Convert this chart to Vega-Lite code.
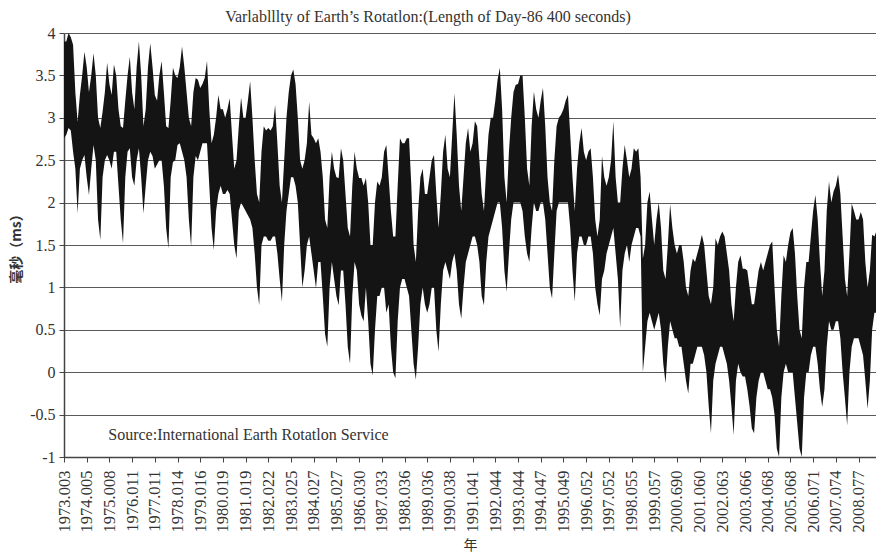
{
  "$schema": "https://vega.github.io/schema/vega-lite/v6.json",
  "autosize": {"type": "none"},
  "padding": {"left": 64, "top": 33, "right": 0, "bottom": 98},
  "width": 812,
  "height": 424,
  "background": "white",
  "config": {"view": {"stroke": null}},
  "title": {"text": "Varlablllty of Earth’s Rotatlon:(Length of Day-86 400 seconds)", "font": "Liberation Serif", "fontSize": 16, "fontWeight": "normal", "color": "#333", "anchor": "middle", "dx": -42, "offset": 0},
  "layer": [
    {
      "data": {"values": [
{"t":1973.0,"lo":2.76,"hi":3.9},{"t":1973.1,"lo":2.8,"hi":3.9},{"t":1973.2,"lo":2.88,"hi":4.0},{"t":1973.3,"lo":2.85,"hi":3.95},{"t":1973.4,"lo":2.6,"hi":3.86},{"t":1973.5,"lo":2.4,"hi":3.3},{"t":1973.6,"lo":1.87,"hi":2.95},{"t":1973.7,"lo":2.4,"hi":3.27},{"t":1973.8,"lo":2.5,"hi":3.5},{"t":1973.9,"lo":2.56,"hi":3.78},
{"t":1974.0,"lo":2.3,"hi":3.6},{"t":1974.1,"lo":2.09,"hi":3.3},{"t":1974.2,"lo":2.4,"hi":3.5},{"t":1974.3,"lo":2.68,"hi":3.76},{"t":1974.4,"lo":2.5,"hi":3.5},{"t":1974.5,"lo":1.8,"hi":3.0},{"t":1974.6,"lo":1.56,"hi":2.88},{"t":1974.7,"lo":2.3,"hi":3.07},{"t":1974.8,"lo":2.5,"hi":3.3},{"t":1974.9,"lo":2.56,"hi":3.65},
{"t":1975.0,"lo":2.5,"hi":3.4},{"t":1975.1,"lo":2.4,"hi":3.27},{"t":1975.2,"lo":2.6,"hi":3.63},{"t":1975.3,"lo":2.6,"hi":3.5},{"t":1975.4,"lo":2.2,"hi":3.1},{"t":1975.5,"lo":1.8,"hi":2.9},{"t":1975.6,"lo":1.52,"hi":2.88},{"t":1975.7,"lo":2.3,"hi":3.2},{"t":1975.8,"lo":2.6,"hi":3.5},{"t":1975.9,"lo":2.64,"hi":3.72},
{"t":1976.0,"lo":2.3,"hi":3.3},{"t":1976.1,"lo":2.2,"hi":3.1},{"t":1976.2,"lo":2.5,"hi":3.6},{"t":1976.3,"lo":2.64,"hi":3.9},{"t":1976.4,"lo":2.3,"hi":3.5},{"t":1976.5,"lo":1.87,"hi":2.9},{"t":1976.6,"lo":2.2,"hi":3.1},{"t":1976.7,"lo":2.5,"hi":3.6},{"t":1976.8,"lo":2.6,"hi":3.88},{"t":1976.9,"lo":2.55,"hi":3.6},
{"t":1977.0,"lo":2.4,"hi":3.27},{"t":1977.1,"lo":2.45,"hi":3.2},{"t":1977.2,"lo":2.5,"hi":3.5},{"t":1977.3,"lo":2.5,"hi":3.67},{"t":1977.4,"lo":2.2,"hi":3.3},{"t":1977.5,"lo":1.7,"hi":2.9},{"t":1977.6,"lo":1.46,"hi":2.88},{"t":1977.7,"lo":2.3,"hi":3.2},{"t":1977.8,"lo":2.48,"hi":3.59},{"t":1977.9,"lo":2.5,"hi":3.5},
{"t":1978.0,"lo":2.68,"hi":3.47},{"t":1978.1,"lo":2.7,"hi":3.6},{"t":1978.2,"lo":2.6,"hi":3.84},{"t":1978.3,"lo":2.5,"hi":3.6},{"t":1978.4,"lo":2.3,"hi":3.3},{"t":1978.5,"lo":1.8,"hi":3.0},{"t":1978.6,"lo":1.48,"hi":2.9},{"t":1978.7,"lo":2.3,"hi":3.3},{"t":1978.8,"lo":2.55,"hi":3.47},{"t":1978.9,"lo":2.5,"hi":3.45},
{"t":1979.0,"lo":2.6,"hi":3.35},{"t":1979.1,"lo":2.7,"hi":3.4},{"t":1979.2,"lo":2.7,"hi":3.47},{"t":1979.3,"lo":2.7,"hi":3.67},{"t":1979.4,"lo":2.2,"hi":3.1},{"t":1979.5,"lo":1.7,"hi":2.7},{"t":1979.6,"lo":1.44,"hi":2.8},{"t":1979.7,"lo":1.9,"hi":3.0},{"t":1979.8,"lo":2.1,"hi":3.27},{"t":1979.9,"lo":2.2,"hi":3.1},
{"t":1980.0,"lo":2.1,"hi":3.1},{"t":1980.1,"lo":2.1,"hi":3.0},{"t":1980.2,"lo":2.15,"hi":3.1},{"t":1980.3,"lo":2.1,"hi":3.23},{"t":1980.4,"lo":1.8,"hi":2.8},{"t":1980.5,"lo":1.5,"hi":2.4},{"t":1980.6,"lo":1.34,"hi":2.5},{"t":1980.7,"lo":1.9,"hi":2.9},{"t":1980.8,"lo":2.0,"hi":3.24},{"t":1980.9,"lo":1.95,"hi":3.0},
{"t":1981.0,"lo":1.9,"hi":3.0},{"t":1981.1,"lo":1.85,"hi":3.2},{"t":1981.2,"lo":1.8,"hi":3.43},{"t":1981.3,"lo":1.7,"hi":3.0},{"t":1981.4,"lo":1.4,"hi":2.5},{"t":1981.5,"lo":1.0,"hi":2.1},{"t":1981.6,"lo":0.79,"hi":2.0},{"t":1981.7,"lo":1.5,"hi":2.6},{"t":1981.8,"lo":1.6,"hi":2.9},{"t":1981.9,"lo":1.6,"hi":2.85},
{"t":1982.0,"lo":1.55,"hi":2.88},{"t":1982.1,"lo":1.55,"hi":2.85},{"t":1982.2,"lo":1.6,"hi":2.9},{"t":1982.3,"lo":1.6,"hi":3.15},{"t":1982.4,"lo":1.4,"hi":2.7},{"t":1982.5,"lo":1.1,"hi":2.2},{"t":1982.6,"lo":0.83,"hi":2.0},{"t":1982.7,"lo":1.5,"hi":2.5},{"t":1982.8,"lo":1.9,"hi":3.0},{"t":1982.9,"lo":2.1,"hi":3.3},
{"t":1983.0,"lo":2.3,"hi":3.5},{"t":1983.1,"lo":2.3,"hi":3.57},{"t":1983.2,"lo":2.2,"hi":3.4},{"t":1983.3,"lo":2.0,"hi":3.0},{"t":1983.4,"lo":1.5,"hi":2.5},{"t":1983.5,"lo":1.0,"hi":2.4},{"t":1983.6,"lo":1.2,"hi":2.5},{"t":1983.7,"lo":1.5,"hi":2.7},{"t":1983.8,"lo":1.6,"hi":3.19},{"t":1983.9,"lo":1.4,"hi":2.8},
{"t":1984.0,"lo":1.2,"hi":2.76},{"t":1984.1,"lo":0.99,"hi":2.7},{"t":1984.2,"lo":1.3,"hi":2.76},{"t":1984.3,"lo":1.3,"hi":2.6},{"t":1984.4,"lo":0.9,"hi":2.3},{"t":1984.5,"lo":0.45,"hi":1.8},{"t":1984.6,"lo":0.3,"hi":1.7},{"t":1984.7,"lo":1.0,"hi":2.3},{"t":1984.8,"lo":1.3,"hi":2.6},{"t":1984.9,"lo":1.1,"hi":2.4},
{"t":1985.0,"lo":0.9,"hi":2.3},{"t":1985.1,"lo":0.79,"hi":2.29},{"t":1985.2,"lo":1.2,"hi":2.64},{"t":1985.3,"lo":1.2,"hi":2.5},{"t":1985.4,"lo":0.8,"hi":2.1},{"t":1985.5,"lo":0.3,"hi":1.7},{"t":1985.6,"lo":0.1,"hi":1.6},{"t":1985.7,"lo":0.9,"hi":2.2},{"t":1985.8,"lo":1.3,"hi":2.6},{"t":1985.9,"lo":1.2,"hi":2.4},
{"t":1986.0,"lo":0.8,"hi":2.29},{"t":1986.1,"lo":0.67,"hi":2.29},{"t":1986.2,"lo":0.6,"hi":2.2},{"t":1986.3,"lo":1.0,"hi":2.29},{"t":1986.4,"lo":0.6,"hi":2.0},{"t":1986.5,"lo":0.1,"hi":1.5},{"t":1986.6,"lo":-0.04,"hi":1.5},{"t":1986.7,"lo":0.5,"hi":2.0},{"t":1986.8,"lo":0.9,"hi":2.25},{"t":1986.9,"lo":0.9,"hi":2.2},
{"t":1987.0,"lo":1.0,"hi":2.3},{"t":1987.1,"lo":1.0,"hi":2.6},{"t":1987.2,"lo":0.7,"hi":2.68},{"t":1987.3,"lo":0.8,"hi":2.3},{"t":1987.4,"lo":0.3,"hi":1.9},{"t":1987.5,"lo":0.0,"hi":1.6},{"t":1987.6,"lo":-0.07,"hi":1.6},{"t":1987.7,"lo":0.6,"hi":2.2},{"t":1987.8,"lo":1.0,"hi":2.76},{"t":1987.9,"lo":1.1,"hi":2.7},
{"t":1988.0,"lo":1.1,"hi":2.7},{"t":1988.1,"lo":1.0,"hi":2.76},{"t":1988.2,"lo":0.9,"hi":2.76},{"t":1988.3,"lo":0.5,"hi":2.2},{"t":1988.4,"lo":0.1,"hi":1.5},{"t":1988.5,"lo":-0.09,"hi":1.3},{"t":1988.6,"lo":0.3,"hi":1.9},{"t":1988.7,"lo":0.8,"hi":2.3},{"t":1988.8,"lo":1.0,"hi":2.4},{"t":1988.9,"lo":0.8,"hi":2.1},
{"t":1989.0,"lo":0.7,"hi":2.1},{"t":1989.1,"lo":0.8,"hi":2.3},{"t":1989.2,"lo":1.0,"hi":2.5},{"t":1989.3,"lo":1.0,"hi":2.56},{"t":1989.4,"lo":0.5,"hi":2.1},{"t":1989.5,"lo":0.24,"hi":1.7},{"t":1989.6,"lo":0.8,"hi":2.1},{"t":1989.7,"lo":1.2,"hi":2.6},{"t":1989.8,"lo":1.3,"hi":2.8},{"t":1989.9,"lo":1.2,"hi":2.4},
{"t":1990.0,"lo":1.1,"hi":2.3},{"t":1990.1,"lo":1.3,"hi":2.8},{"t":1990.2,"lo":1.4,"hi":3.29},{"t":1990.3,"lo":1.2,"hi":2.8},{"t":1990.4,"lo":0.8,"hi":2.2},{"t":1990.5,"lo":0.63,"hi":1.9},{"t":1990.6,"lo":1.0,"hi":2.3},{"t":1990.7,"lo":1.3,"hi":2.7},{"t":1990.8,"lo":1.4,"hi":2.88},{"t":1990.9,"lo":1.5,"hi":2.6},
{"t":1991.0,"lo":1.6,"hi":2.7},{"t":1991.1,"lo":1.6,"hi":2.96},{"t":1991.2,"lo":1.5,"hi":2.9},{"t":1991.3,"lo":1.3,"hi":2.5},{"t":1991.4,"lo":0.9,"hi":2.1},{"t":1991.5,"lo":0.79,"hi":1.9},{"t":1991.6,"lo":1.3,"hi":2.4},{"t":1991.7,"lo":1.6,"hi":2.8},{"t":1991.8,"lo":1.7,"hi":3.0},{"t":1991.9,"lo":1.8,"hi":3.0},
{"t":1992.0,"lo":1.9,"hi":3.2},{"t":1992.1,"lo":2.0,"hi":3.45},{"t":1992.2,"lo":2.0,"hi":3.59},{"t":1992.3,"lo":1.7,"hi":3.1},{"t":1992.4,"lo":1.2,"hi":2.3},{"t":1992.5,"lo":0.95,"hi":2.0},{"t":1992.6,"lo":1.4,"hi":2.6},{"t":1992.7,"lo":1.8,"hi":3.0},{"t":1992.8,"lo":2.0,"hi":3.3},{"t":1992.9,"lo":2.0,"hi":3.39},
{"t":1993.0,"lo":2.0,"hi":3.4},{"t":1993.1,"lo":2.0,"hi":3.5},{"t":1993.2,"lo":1.9,"hi":3.5},{"t":1993.3,"lo":1.6,"hi":3.0},{"t":1993.4,"lo":1.4,"hi":2.4},{"t":1993.5,"lo":1.3,"hi":2.2},{"t":1993.6,"lo":1.7,"hi":2.9},{"t":1993.7,"lo":2.0,"hi":3.31},{"t":1993.8,"lo":1.9,"hi":3.1},{"t":1993.9,"lo":1.9,"hi":3.0},
{"t":1994.0,"lo":2.0,"hi":3.2},{"t":1994.1,"lo":2.0,"hi":3.35},{"t":1994.2,"lo":1.8,"hi":2.9},{"t":1994.3,"lo":1.4,"hi":2.3},{"t":1994.4,"lo":1.0,"hi":2.0},{"t":1994.5,"lo":0.87,"hi":1.9},{"t":1994.6,"lo":1.4,"hi":2.5},{"t":1994.7,"lo":1.9,"hi":2.9},{"t":1994.8,"lo":2.0,"hi":3.0},{"t":1994.9,"lo":2.0,"hi":3.04},
{"t":1995.0,"lo":2.0,"hi":3.1},{"t":1995.1,"lo":2.0,"hi":3.2},{"t":1995.2,"lo":2.0,"hi":3.27},{"t":1995.3,"lo":1.7,"hi":2.8},{"t":1995.4,"lo":1.2,"hi":2.3},{"t":1995.5,"lo":0.83,"hi":1.9},{"t":1995.6,"lo":1.4,"hi":2.4},{"t":1995.7,"lo":1.6,"hi":2.7},{"t":1995.8,"lo":1.6,"hi":2.88},{"t":1995.9,"lo":1.5,"hi":2.6},
{"t":1996.0,"lo":1.5,"hi":2.5},{"t":1996.1,"lo":1.6,"hi":2.6},{"t":1996.2,"lo":1.6,"hi":2.64},{"t":1996.3,"lo":1.4,"hi":2.3},{"t":1996.4,"lo":1.0,"hi":1.8},{"t":1996.5,"lo":0.8,"hi":1.6},{"t":1996.6,"lo":0.67,"hi":1.8},{"t":1996.7,"lo":1.1,"hi":2.55},{"t":1996.8,"lo":1.2,"hi":2.3},{"t":1996.9,"lo":1.4,"hi":2.2},
{"t":1997.0,"lo":1.5,"hi":2.3},{"t":1997.1,"lo":1.6,"hi":2.5},{"t":1997.2,"lo":1.7,"hi":2.96},{"t":1997.3,"lo":1.4,"hi":2.3},{"t":1997.4,"lo":1.1,"hi":2.0},{"t":1997.5,"lo":0.52,"hi":2.0},{"t":1997.6,"lo":1.2,"hi":2.4},{"t":1997.7,"lo":1.4,"hi":2.68},{"t":1997.8,"lo":1.5,"hi":2.5},{"t":1997.9,"lo":1.3,"hi":2.3},
{"t":1998.0,"lo":1.5,"hi":2.4},{"t":1998.1,"lo":1.6,"hi":2.64},{"t":1998.2,"lo":1.7,"hi":2.6},{"t":1998.3,"lo":1.7,"hi":2.64},{"t":1998.4,"lo":1.6,"hi":2.3},{"t":1998.5,"lo":0.0,"hi":1.34},{"t":1998.6,"lo":0.3,"hi":1.5},{"t":1998.7,"lo":0.6,"hi":2.0},{"t":1998.8,"lo":0.7,"hi":2.13},{"t":1998.9,"lo":0.6,"hi":1.8},
{"t":1999.0,"lo":0.5,"hi":1.5},{"t":1999.1,"lo":0.6,"hi":1.8},{"t":1999.2,"lo":0.7,"hi":2.0},{"t":1999.3,"lo":0.5,"hi":1.7},{"t":1999.4,"lo":0.1,"hi":1.2},{"t":1999.5,"lo":-0.13,"hi":1.1},{"t":1999.6,"lo":0.3,"hi":1.5},{"t":1999.7,"lo":0.6,"hi":1.98},{"t":1999.8,"lo":0.5,"hi":1.7},{"t":1999.9,"lo":0.4,"hi":1.5},
{"t":2000.0,"lo":0.4,"hi":1.4},{"t":2000.1,"lo":0.3,"hi":1.5},{"t":2000.2,"lo":0.3,"hi":1.5},{"t":2000.3,"lo":0.1,"hi":1.3},{"t":2000.4,"lo":-0.1,"hi":1.0},{"t":2000.5,"lo":-0.25,"hi":0.9},{"t":2000.6,"lo":0.1,"hi":1.2},{"t":2000.7,"lo":0.1,"hi":1.34},{"t":2000.8,"lo":0.2,"hi":1.3},{"t":2000.9,"lo":0.3,"hi":1.4},
{"t":2001.0,"lo":0.3,"hi":1.5},{"t":2001.1,"lo":0.3,"hi":1.62},{"t":2001.2,"lo":0.2,"hi":1.5},{"t":2001.3,"lo":0.0,"hi":1.2},{"t":2001.4,"lo":-0.4,"hi":0.9},{"t":2001.5,"lo":-0.72,"hi":0.8},{"t":2001.6,"lo":-0.1,"hi":1.0},{"t":2001.7,"lo":0.1,"hi":1.58},{"t":2001.8,"lo":0.2,"hi":1.5},{"t":2001.9,"lo":0.3,"hi":1.6},
{"t":2002.0,"lo":0.3,"hi":1.66},{"t":2002.1,"lo":0.2,"hi":1.6},{"t":2002.2,"lo":0.1,"hi":1.4},{"t":2002.3,"lo":-0.1,"hi":1.2},{"t":2002.4,"lo":-0.4,"hi":0.8},{"t":2002.5,"lo":-0.74,"hi":0.6},{"t":2002.6,"lo":-0.1,"hi":1.0},{"t":2002.7,"lo":0.1,"hi":1.3},{"t":2002.8,"lo":0.0,"hi":1.38},{"t":2002.9,"lo":-0.05,"hi":1.22},
{"t":2003.0,"lo":-0.05,"hi":1.22},{"t":2003.1,"lo":-0.2,"hi":1.2},{"t":2003.2,"lo":-0.4,"hi":1.0},{"t":2003.3,"lo":-0.66,"hi":0.8},{"t":2003.4,"lo":-0.72,"hi":0.8},{"t":2003.5,"lo":-0.3,"hi":1.0},{"t":2003.6,"lo":-0.1,"hi":1.2},{"t":2003.7,"lo":0.0,"hi":1.3},{"t":2003.8,"lo":0.0,"hi":1.2},{"t":2003.9,"lo":-0.1,"hi":1.3},
{"t":2004.0,"lo":-0.2,"hi":1.4},{"t":2004.1,"lo":-0.2,"hi":1.5},{"t":2004.2,"lo":-0.3,"hi":1.54},{"t":2004.3,"lo":-0.5,"hi":1.0},{"t":2004.4,"lo":-0.9,"hi":0.5},{"t":2004.5,"lo":-1.0,"hi":0.3},{"t":2004.6,"lo":-0.3,"hi":0.9},{"t":2004.7,"lo":0.0,"hi":1.38},{"t":2004.8,"lo":0.1,"hi":1.3},{"t":2004.9,"lo":0.0,"hi":1.5},
{"t":2005.0,"lo":0.0,"hi":1.65},{"t":2005.1,"lo":0.0,"hi":1.7},{"t":2005.2,"lo":-0.3,"hi":1.4},{"t":2005.3,"lo":-0.6,"hi":0.9},{"t":2005.4,"lo":-0.9,"hi":0.5},{"t":2005.5,"lo":-1.0,"hi":0.4},{"t":2005.6,"lo":-0.3,"hi":1.0},{"t":2005.7,"lo":0.0,"hi":1.3},{"t":2005.8,"lo":0.0,"hi":1.3},{"t":2005.9,"lo":0.2,"hi":1.6},
{"t":2006.0,"lo":0.3,"hi":1.9},{"t":2006.1,"lo":0.3,"hi":2.09},{"t":2006.2,"lo":0.1,"hi":1.81},{"t":2006.3,"lo":-0.2,"hi":1.3},{"t":2006.4,"lo":-0.41,"hi":0.9},{"t":2006.5,"lo":-0.2,"hi":1.2},{"t":2006.6,"lo":0.3,"hi":1.9},{"t":2006.7,"lo":0.6,"hi":2.25},{"t":2006.8,"lo":0.5,"hi":2.0},{"t":2006.9,"lo":0.5,"hi":2.13},
{"t":2007.0,"lo":0.6,"hi":2.2},{"t":2007.1,"lo":0.6,"hi":2.33},{"t":2007.2,"lo":0.4,"hi":2.1},{"t":2007.3,"lo":0.0,"hi":1.6},{"t":2007.4,"lo":-0.3,"hi":1.1},{"t":2007.5,"lo":-0.63,"hi":0.9},{"t":2007.6,"lo":0.0,"hi":1.4},{"t":2007.7,"lo":0.3,"hi":1.99},{"t":2007.8,"lo":0.4,"hi":1.9},{"t":2007.9,"lo":0.4,"hi":1.8},
{"t":2008.0,"lo":0.4,"hi":1.8},{"t":2008.1,"lo":0.3,"hi":1.89},{"t":2008.2,"lo":0.2,"hi":1.8},{"t":2008.3,"lo":-0.1,"hi":1.3},{"t":2008.4,"lo":-0.43,"hi":1.0},{"t":2008.5,"lo":-0.1,"hi":1.2},{"t":2008.6,"lo":0.5,"hi":1.62},{"t":2008.7,"lo":0.7,"hi":1.6},{"t":2008.77,"lo":0.7,"hi":1.65}
      ]},
      "mark": {"type": "area", "color": "#141414", "clip": true},
      "encoding": {
        "x": {"field": "t", "type": "quantitative",
          "scale": {"domain": [1973, 2008.77], "nice": false, "zero": false},
          "axis": {
            "values": [1973,1974,1975,1976,1977,1978,1979,1980,1981,1982,1983,1984,1985,1986,1987,1988,1989,1990,1991,1992,1993,1994,1995,1996,1997,1998,1999,2000,2001,2002,2003,2004,2005,2006,2007,2008],
            "tickCount": 100,
            "labelExpr": "['1973.003','1974.005','1975.008','1976.011','1977.011','1978.014','1979.016','1980.019','1981.019','1982.022','1983.025','1984.027','1985.027','1986.030','1987.033','1988.036','1989.036','1990.038','1991.041','1992.044','1993.044','1994.047','1995.049','1996.052','1997.052','1998.055','1999.057','2000.690','2001.060','2002.063','2003.066','2004.068','2005.068','2006.071','2007.074','2008.077'][datum.value - 1973]",
            "labelAngle": 270, "labelAlign": "right", "labelBaseline": "middle",
            "labelFont": "Liberation Serif", "labelFontSize": 16.5, "labelColor": "#333",
            "labelPadding": 8, "labelOverlap": false, "labelFlush": false,
            "tickSize": 5, "tickColor": "#444", "domainColor": "#444", "domainWidth": 1.5,
            "grid": false,
            "title": "年", "titleFont": "Noto Sans CJK SC", "titleFontSize": 14, "titleFontWeight": "normal", "titleColor": "#333", "titlePadding": 7
          }
        },
        "y": {"field": "lo", "type": "quantitative",
          "scale": {"domain": [-1, 4], "nice": false, "zero": false},
          "axis": {
            "values": [-1,-0.5,0,0.5,1,1.5,2,2.5,3,3.5,4],
            "tickCount": 50,
            "labelExpr": "datum.value < 0 ? '-' + format(-datum.value, '') : format(datum.value, '')",
            "labelFont": "Liberation Serif", "labelFontSize": 16, "labelColor": "#333",
            "labelPadding": 4,
            "tickSize": 5, "tickColor": "#444", "domainColor": "#444", "domainWidth": 1.5,
            "grid": true, "gridColor": "#5a5a5a", "gridWidth": 1.2,
            "title": "毫秒（ms）", "titleFont": "Noto Sans CJK SC", "titleFontSize": 14, "titleFontWeight": "bold", "titleColor": "#333", "titlePadding": 6
          }
        },
        "y2": {"field": "hi"}
      }
    },
    {
      "data": {"values": [{"t": 1974.95, "v": -0.74, "label": "Source:International Earth Rotatlon Service"}]},
      "mark": {"type": "text", "align": "left", "baseline": "middle", "font": "Liberation Serif", "fontSize": 16, "color": "#333"},
      "encoding": {
        "x": {"field": "t", "type": "quantitative"},
        "y": {"field": "v", "type": "quantitative"},
        "text": {"field": "label"}
      }
    }
  ]
}
